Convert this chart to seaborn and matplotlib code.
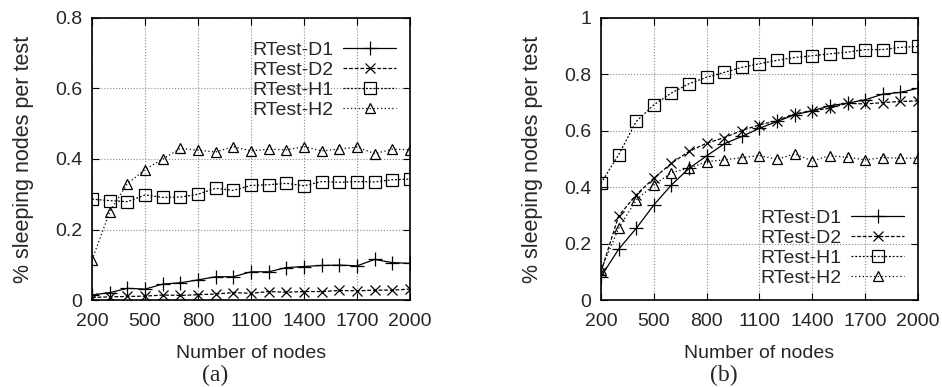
import seaborn as sns
import pandas as pd
import matplotlib.pyplot as plt

nodes = [200, 300, 400, 500, 600, 700, 800, 900, 1000, 1100,
         1200, 1300, 1400, 1500, 1600, 1700, 1800, 1900, 2000]

### (a)
a_d1 = [0.014, 0.021, 0.033, 0.031, 0.045, 0.049, 0.057, 0.066, 0.066, 0.080,
        0.080, 0.092, 0.095, 0.098, 0.099, 0.097, 0.115, 0.106, 0.104]
a_d2 = [0.007, 0.009, 0.010, 0.011, 0.014, 0.013, 0.015, 0.017, 0.021, 0.019,
        0.024, 0.022, 0.024, 0.024, 0.027, 0.026, 0.028, 0.028, 0.031]
a_h1 = [0.286, 0.282, 0.279, 0.298, 0.291, 0.292, 0.300, 0.317, 0.311, 0.325,
        0.327, 0.331, 0.324, 0.336, 0.334, 0.336, 0.335, 0.341, 0.343]
a_h2 = [0.114, 0.250, 0.330, 0.370, 0.400, 0.430, 0.425, 0.420, 0.435, 0.423,
        0.428, 0.426, 0.435, 0.423, 0.428, 0.434, 0.415, 0.428, 0.426]

### (b)
b_d1 = [0.083, 0.180, 0.254, 0.337, 0.408, 0.467, 0.511, 0.554, 0.580, 0.609,
        0.633, 0.657, 0.671, 0.689, 0.698, 0.710, 0.730, 0.736, 0.751]
b_d2 = [0.100, 0.298, 0.373, 0.432, 0.485, 0.527, 0.556, 0.576, 0.601, 0.621,
        0.636, 0.660, 0.671, 0.680, 0.698, 0.695, 0.700, 0.704, 0.706]
b_h1 = [0.414, 0.515, 0.633, 0.692, 0.734, 0.767, 0.790, 0.807, 0.825, 0.838,
        0.850, 0.860, 0.866, 0.873, 0.879, 0.888, 0.888, 0.896, 0.899]
b_h2 = [0.107, 0.254, 0.355, 0.408, 0.452, 0.467, 0.491, 0.497, 0.505, 0.512,
        0.499, 0.518, 0.493, 0.512, 0.506, 0.497, 0.505, 0.503, 0.503]

names = ['RTest-D1', 'RTest-D2', 'RTest-H1', 'RTest-H2']
styles = {
    'RTest-D1': dict(ls='-', marker='+', ms=10),
    'RTest-D2': dict(ls=(0, (3, 1.5)), marker='x', ms=7.5),
    'RTest-H1': dict(ls=(0, (1.5, 1.5)), marker='s', ms=8),
    'RTest-H2': dict(ls=(0, (1, 2)), marker='^', ms=7.5),
}

sns.set_style('ticks')
plt.rcParams['font.family'] = ['Liberation Sans', 'DejaVu Sans']

fig = plt.figure(figsize=(9.42, 3.87), dpi=100)
ax1 = fig.add_axes([0.0977, 0.2248, 0.3376, 0.7287])
ax2 = fig.add_axes([0.638, 0.2248, 0.3365, 0.7287])


def draw(ax, series, ymax, yticks, ylabels, leg_loc, leg_anchor):
    for name, vals in zip(names, series):
        df = pd.DataFrame({'n': nodes, 'v': vals})
        st = styles[name]
        sns.lineplot(data=df, x='n', y='v', ax=ax, color='black', lw=0.9,
                     linestyle=st['ls'], marker=st['marker'], markersize=st['ms'],
                     markerfacecolor='none', markeredgecolor='black',
                     markeredgewidth=0.9, label=name)
    ax.set_xlim(200, 2000)
    ax.set_ylim(0, ymax)
    ax.set_xticks(range(200, 2001, 300))
    ax.set_yticks(yticks)
    ax.set_yticklabels(ylabels)
    ax.grid(True, color='#888888', linestyle=':', lw=0.8)
    ax.tick_params(direction='in', top=True, right=True, length=5,
                   labelsize=14, color='black')
    ax.tick_params(axis='x', pad=9)
    ax.tick_params(axis='y', pad=7)
    for sp in ax.spines.values():
        sp.set_linewidth(1.2)
        sp.set_color('black')
    ax.set_xlabel('Number of nodes', fontsize=14, va='center')
    ax.xaxis.set_label_coords(0.5, -0.19)
    ax.set_ylabel('% sleeping nodes per test', fontsize=15.5, va='center')
    ax.yaxis.set_label_coords(-0.215, 0.5)
    ax.legend(loc=leg_loc, bbox_to_anchor=leg_anchor, frameon=False,
              markerfirst=False, fontsize=14, handlelength=2.7,
              labelspacing=0.12, borderaxespad=0, handletextpad=0.5)


draw(ax1, [a_d1, a_d2, a_h1, a_h2], 0.8, [0, 0.2, 0.4, 0.6, 0.8],
     ['0', '0.2', '0.4', '0.6', '0.8'], 'upper right', (0.98, 0.945))
draw(ax2, [b_d1, b_d2, b_h1, b_h2], 1.0, [0, 0.2, 0.4, 0.6, 0.8, 1.0],
     ['0', '0.2', '0.4', '0.6', '0.8', '1'], 'lower right', (0.98, 0.02))

fig.text(215 / 942, 1 - 375 / 387, '(a)', ha='center', va='center',
         fontsize=17, family='Liberation Serif')
fig.text(724 / 942, 1 - 375 / 387, '(b)', ha='center', va='center',
         fontsize=17, family='Liberation Serif')

plt.savefig('out.png', dpi=100)
plt.close('all')
